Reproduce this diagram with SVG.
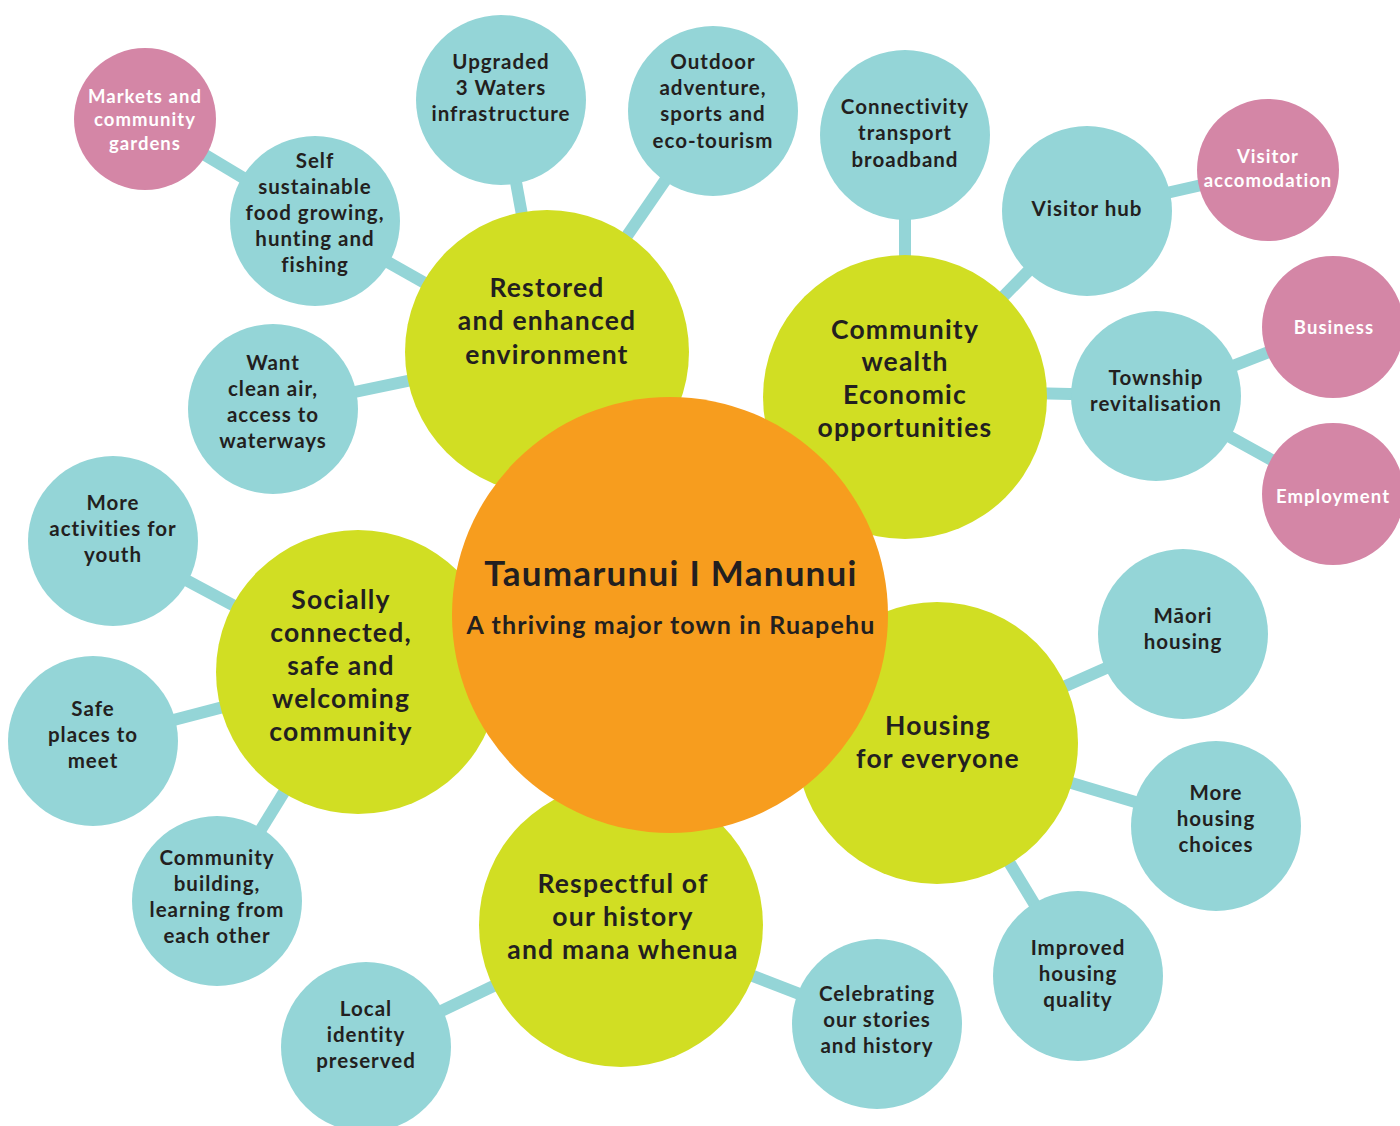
<svg xmlns="http://www.w3.org/2000/svg" width="1400" height="1126" viewBox="0 0 1400 1126">
<style>
.teal{fill:#94D5D7}
.pink{fill:#D486A6}
.lime{fill:#D1DE23}
.orange{fill:#F79D1E}
.conn line{stroke:#94D5D7;stroke-width:12}
text{font-family:Lato,"Liberation Sans",sans-serif;font-weight:bold;text-anchor:middle}
.t{font-size:20.5px;letter-spacing:1px;fill:#231F20}
.w{font-size:18.5px;letter-spacing:1.05px;fill:#FFFFFF}
.g{font-size:26.5px;letter-spacing:1.2px;fill:#231F20}
.c1{font-size:35px;letter-spacing:1.25px;fill:#231F20}
.c2{font-size:25px;letter-spacing:1.15px;fill:#231F20}
</style>
<rect width="1400" height="1126" fill="#FFFFFF"/>
<g id="connectors" class="conn">
<line x1="145" y1="119" x2="315" y2="221"/>
<line x1="315" y1="221" x2="547" y2="352"/>
<line x1="273" y1="409" x2="547" y2="352"/>
<line x1="501" y1="100" x2="547" y2="352"/>
<line x1="713" y1="111" x2="547" y2="352"/>
<line x1="905" y1="135" x2="905" y2="397"/>
<line x1="1087" y1="211" x2="905" y2="397"/>
<line x1="1087" y1="211" x2="1268" y2="170"/>
<line x1="1156" y1="396" x2="905" y2="390"/>
<line x1="1156" y1="396" x2="1333" y2="327"/>
<line x1="1156" y1="396" x2="1333" y2="494"/>
<line x1="1183" y1="634" x2="937" y2="743"/>
<line x1="1216" y1="826" x2="937" y2="743"/>
<line x1="1078" y1="976" x2="937" y2="743"/>
<line x1="877" y1="1024" x2="621" y2="925"/>
<line x1="366" y1="1047" x2="621" y2="925"/>
<line x1="217" y1="901" x2="358" y2="672"/>
<line x1="93" y1="741" x2="358" y2="672"/>
<line x1="113" y1="541" x2="358" y2="672"/>
</g>
<g id="restored"><circle class="lime" cx="547" cy="352" r="142"/>
<text class="g"><tspan x="547" y="297">Restored</tspan><tspan x="547" y="330">and enhanced</tspan><tspan x="547" y="364">environment</tspan></text></g>
<g id="wealth"><circle class="lime" cx="905" cy="397" r="142"/>
<text class="g"><tspan x="905" y="339">Community</tspan><tspan x="905" y="371">wealth</tspan><tspan x="905" y="404">Economic</tspan><tspan x="905" y="437">opportunities</tspan></text></g>
<g id="social"><circle class="lime" cx="358" cy="672" r="142"/>
<text class="g"><tspan x="341" y="609">Socially</tspan><tspan x="341" y="642">connected,</tspan><tspan x="341" y="675">safe and</tspan><tspan x="341" y="708">welcoming</tspan><tspan x="341" y="741">community</tspan></text></g>
<g id="housing"><circle class="lime" cx="937" cy="743" r="141"/>
<text class="g"><tspan x="938" y="735">Housing</tspan><tspan x="938" y="768">for everyone</tspan></text></g>
<g id="respectful"><circle class="lime" cx="621" cy="925" r="142"/>
<text class="g"><tspan x="623" y="893">Respectful of</tspan><tspan x="623" y="926">our history</tspan><tspan x="623" y="959">and mana whenua</tspan></text></g>
<g id="centre"><circle class="orange" cx="670" cy="615" r="218"/>
<text class="c1" x="671" y="586">Taumarunui I Manunui</text>
<text class="c2" x="671" y="634">A thriving major town in Ruapehu</text></g>
<g id="markets"><circle class="pink" cx="145" cy="119" r="71"/>
<text class="w"><tspan x="145" y="103">Markets and</tspan><tspan x="145" y="126">community</tspan><tspan x="145" y="150">gardens</tspan></text></g>
<g id="self"><circle class="teal" cx="315" cy="221" r="85"/>
<text class="t"><tspan x="315" y="168">Self</tspan><tspan x="315" y="194">sustainable</tspan><tspan x="315" y="220">food growing,</tspan><tspan x="315" y="246">hunting and</tspan><tspan x="315" y="272">fishing</tspan></text></g>
<g id="waters"><circle class="teal" cx="501" cy="100" r="85"/>
<text class="t"><tspan x="501" y="69">Upgraded</tspan><tspan x="501" y="95">3 Waters</tspan><tspan x="501" y="121">infrastructure</tspan></text></g>
<g id="outdoor"><circle class="teal" cx="713" cy="111" r="85"/>
<text class="t"><tspan x="713" y="69">Outdoor</tspan><tspan x="713" y="95">adventure,</tspan><tspan x="713" y="121">sports and</tspan><tspan x="713" y="148">eco-tourism</tspan></text></g>
<g id="connectivity"><circle class="teal" cx="905" cy="135" r="85"/>
<text class="t"><tspan x="905" y="114">Connectivity</tspan><tspan x="905" y="140">transport</tspan><tspan x="905" y="167">broadband</tspan></text></g>
<g id="visitorhub"><circle class="teal" cx="1087" cy="211" r="85"/>
<text class="t" x="1087" y="216">Visitor hub</text></g>
<g id="accom"><circle class="pink" cx="1268" cy="170" r="71"/>
<text class="w"><tspan x="1268" y="163">Visitor</tspan><tspan x="1268" y="187">accomodation</tspan></text></g>
<g id="township"><circle class="teal" cx="1156" cy="396" r="85"/>
<text class="t"><tspan x="1156" y="385">Township</tspan><tspan x="1156" y="411">revitalisation</tspan></text></g>
<g id="business"><circle class="pink" cx="1333" cy="327" r="71"/>
<text class="w" x="1334" y="334">Business</text></g>
<g id="employment"><circle class="pink" cx="1333" cy="494" r="71"/>
<text class="w" x="1333" y="503">Employment</text></g>
<g id="maori"><circle class="teal" cx="1183" cy="634" r="85"/>
<text class="t"><tspan x="1183" y="623">Māori</tspan><tspan x="1183" y="649">housing</tspan></text></g>
<g id="choices"><circle class="teal" cx="1216" cy="826" r="85"/>
<text class="t"><tspan x="1216" y="800">More</tspan><tspan x="1216" y="826">housing</tspan><tspan x="1216" y="852">choices</tspan></text></g>
<g id="quality"><circle class="teal" cx="1078" cy="976" r="85"/>
<text class="t"><tspan x="1078" y="955">Improved</tspan><tspan x="1078" y="981">housing</tspan><tspan x="1078" y="1007">quality</tspan></text></g>
<g id="celebrating"><circle class="teal" cx="877" cy="1024" r="85"/>
<text class="t"><tspan x="877" y="1001">Celebrating</tspan><tspan x="877" y="1027">our stories</tspan><tspan x="877" y="1053">and history</tspan></text></g>
<g id="local"><circle class="teal" cx="366" cy="1047" r="85"/>
<text class="t"><tspan x="366" y="1016">Local</tspan><tspan x="366" y="1042">identity</tspan><tspan x="366" y="1068">preserved</tspan></text></g>
<g id="building"><circle class="teal" cx="217" cy="901" r="85"/>
<text class="t"><tspan x="217" y="865">Community</tspan><tspan x="217" y="891">building,</tspan><tspan x="217" y="917">learning from</tspan><tspan x="217" y="943">each other</tspan></text></g>
<g id="safe"><circle class="teal" cx="93" cy="741" r="85"/>
<text class="t"><tspan x="93" y="716">Safe</tspan><tspan x="93" y="742">places to</tspan><tspan x="93" y="768">meet</tspan></text></g>
<g id="youth"><circle class="teal" cx="113" cy="541" r="85"/>
<text class="t"><tspan x="113" y="510">More</tspan><tspan x="113" y="536">activities for</tspan><tspan x="113" y="562">youth</tspan></text></g>
<g id="cleanair"><circle class="teal" cx="273" cy="409" r="85"/>
<text class="t"><tspan x="273" y="370">Want</tspan><tspan x="273" y="396">clean air,</tspan><tspan x="273" y="422">access to</tspan><tspan x="273" y="448">waterways</tspan></text></g>
</svg>
